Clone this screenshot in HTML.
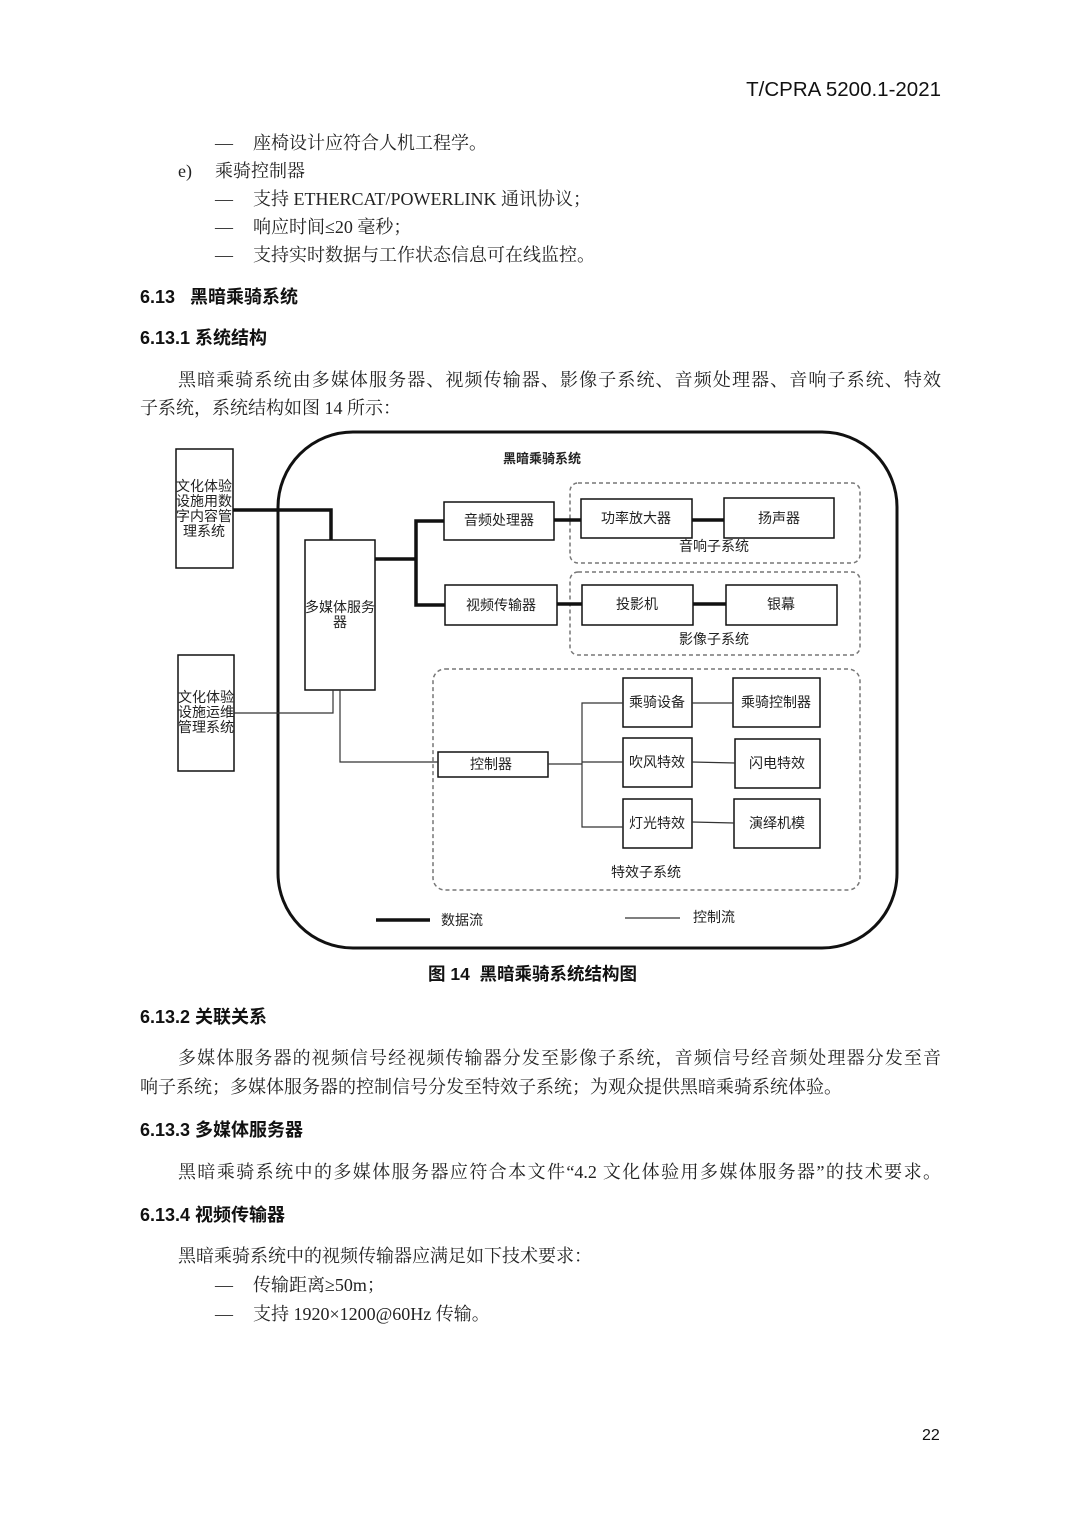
<!DOCTYPE html>
<html><head><meta charset="utf-8"><style>
*{margin:0;padding:0}
body{width:1080px;height:1528px;background:#fff;position:relative;overflow:hidden;color:#222}
.t{position:absolute;white-space:nowrap;font-family:"Liberation Serif","Noto Serif CJK SC",serif;font-size:18px;line-height:22px}
.h{position:absolute;white-space:nowrap;font-family:"Liberation Sans","Noto Sans CJK SC",sans-serif;font-size:18px;font-weight:bold;line-height:22px;color:#111}
.j{text-align:justify;text-align-last:justify}
svg text{font-family:"Liberation Sans","Noto Sans CJK SC",sans-serif;fill:#222}
</style></head><body>
<div class="h" style="right:139px;top:79px;font-weight:normal;font-size:20.5px">T/CPRA 5200.1-2021</div>
<div class="t" style="left:215px;top:132px">—</div><div class="t" style="left:253px;top:132px">座椅设计应符合人机工程学。</div>
<div class="t" style="left:178px;top:160px">e)</div><div class="t" style="left:215px;top:160px">乘骑控制器</div>
<div class="t" style="left:215px;top:188px">—</div><div class="t" style="left:253px;top:188px">支持 ETHERCAT/POWERLINK 通讯协议；</div>
<div class="t" style="left:215px;top:216px">—</div><div class="t" style="left:253px;top:216px">响应时间≤20 毫秒；</div>
<div class="t" style="left:215px;top:244px">—</div><div class="t" style="left:253px;top:244px">支持实时数据与工作状态信息可在线监控。</div>
<div class="h" style="left:140px;top:286px">6.13&nbsp;&nbsp;&nbsp;黑暗乘骑系统</div>
<div class="h" style="left:140px;top:327px">6.13.1 系统结构</div>
<div class="t j" style="left:178px;top:369px;width:763px">黑暗乘骑系统由多媒体服务器、视频传输器、影像子系统、音频处理器、音响子系统、特效</div>
<div class="t" style="left:140px;top:397px">子系统，系统结构如图 14 所示：</div>

<svg style="position:absolute;left:0;top:0" width="1080" height="1000">
<g fill="none" stroke="#111">
<rect x="278" y="432" width="619" height="516" rx="75" stroke-width="3"/>
<rect x="176" y="449" width="57" height="119" stroke-width="1.5"/>
<rect x="178" y="655" width="56" height="116" stroke-width="1.5"/>
<rect x="305" y="540" width="70" height="150" stroke-width="1.5"/>
<rect x="444" y="502" width="110" height="38" stroke-width="1.5"/>
<rect x="445" y="585" width="112" height="40" stroke-width="1.5"/>
<rect x="581" y="499" width="111" height="39" stroke-width="1.5"/>
<rect x="724" y="498" width="110" height="40" stroke-width="1.5"/>
<rect x="582" y="585" width="111" height="40" stroke-width="1.5"/>
<rect x="726" y="585" width="111" height="40" stroke-width="1.5"/>
<rect x="438" y="752" width="110" height="25" stroke-width="1.5"/>
<rect x="623" y="678" width="69" height="49" stroke-width="1.5"/>
<rect x="733" y="678" width="87" height="49" stroke-width="1.5"/>
<rect x="623" y="738" width="69" height="49" stroke-width="1.5"/>
<rect x="735" y="739" width="85" height="49" stroke-width="1.5"/>
<rect x="623" y="799" width="69" height="49" stroke-width="1.5"/>
<rect x="734" y="799" width="86" height="49" stroke-width="1.5"/>
</g>
<g fill="none" stroke="#777" stroke-width="1.5" stroke-dasharray="4,3">
<rect x="570" y="483" width="290" height="80" rx="8"/>
<rect x="570" y="572" width="290" height="83" rx="8"/>
<rect x="433" y="669" width="427" height="221" rx="12"/>
</g>
<g fill="none" stroke="#111" stroke-width="3.5">
<polyline points="233,510 331,510 331,540"/>
<polyline points="375,559 416,559"/>
<polyline points="444,521 416,521 416,605 445,605"/>
<line x1="554" y1="520" x2="581" y2="520"/><line x1="692" y1="520" x2="724" y2="520"/>
<line x1="557" y1="604" x2="582" y2="604"/><line x1="693" y1="604" x2="726" y2="604"/>
<line x1="376" y1="920" x2="430" y2="920"/>
</g>
<g fill="none" stroke="#333" stroke-width="1.2">
<polyline points="234,713 333,713 333,690"/>
<polyline points="340,690 340,762 438,762"/>
<line x1="548" y1="764" x2="582" y2="764"/>
<polyline points="623,703 582,703 582,827 623,827"/>
<line x1="582" y1="762" x2="623" y2="762"/>
<line x1="692" y1="703" x2="733" y2="703"/>
<line x1="692" y1="762" x2="735" y2="763"/>
<line x1="692" y1="822" x2="734" y2="823"/>
<line x1="625" y1="918" x2="680" y2="918"/>
</g>
<g font-size="14" text-anchor="middle">
<text x="542" y="463" font-weight="bold" font-size="13">黑暗乘骑系统</text>
<text x="204" y="491">文化体验</text><text x="204" y="506">设施用数</text><text x="204" y="521">字内容管</text><text x="204" y="536">理系统</text>
<text x="206" y="702">文化体验</text><text x="206" y="717">设施运维</text><text x="206" y="732">管理系统</text>
<text x="340" y="612">多媒体服务</text><text x="340" y="627">器</text>
<text x="499" y="525">音频处理器</text><text x="501" y="610">视频传输器</text>
<text x="636" y="523">功率放大器</text><text x="779" y="523">扬声器</text>
<text x="637" y="609">投影机</text><text x="781" y="609">银幕</text>
<text x="714" y="551">音响子系统</text><text x="714" y="644">影像子系统</text>
<text x="491" y="769">控制器</text>
<text x="657" y="707">乘骑设备</text><text x="776" y="707">乘骑控制器</text>
<text x="657" y="767">吹风特效</text><text x="777" y="768">闪电特效</text>
<text x="657" y="828">灯光特效</text><text x="777" y="828">演绎机模</text>
<text x="646" y="877">特效子系统</text>
<text x="462" y="925">数据流</text><text x="714" y="922">控制流</text>
</g>
</svg>

<div class="h" style="left:428px;top:963px;font-size:17.5px">图 14&nbsp;&nbsp;黑暗乘骑系统结构图</div>
<div class="h" style="left:140px;top:1006px">6.13.2 关联关系</div>
<div class="t j" style="left:178px;top:1047px;width:763px">多媒体服务器的视频信号经视频传输器分发至影像子系统，音频信号经音频处理器分发至音</div>
<div class="t" style="left:140px;top:1076px">响子系统；多媒体服务器的控制信号分发至特效子系统；为观众提供黑暗乘骑系统体验。</div>
<div class="h" style="left:140px;top:1119px">6.13.3 多媒体服务器</div>
<div class="t j" style="left:178px;top:1161px;width:763px">黑暗乘骑系统中的多媒体服务器应符合本文件“4.2 文化体验用多媒体服务器”的技术要求。</div>
<div class="h" style="left:140px;top:1204px">6.13.4 视频传输器</div>
<div class="t" style="left:178px;top:1245px">黑暗乘骑系统中的视频传输器应满足如下技术要求：</div>
<div class="t" style="left:215px;top:1274px">—</div><div class="t" style="left:253px;top:1274px">传输距离≥50m；</div>
<div class="t" style="left:215px;top:1303px">—</div><div class="t" style="left:253px;top:1303px">支持 1920×1200@60Hz 传输。</div>
<div class="h" style="left:922px;top:1425px;font-weight:normal;font-size:16px">22</div>
</body></html>
